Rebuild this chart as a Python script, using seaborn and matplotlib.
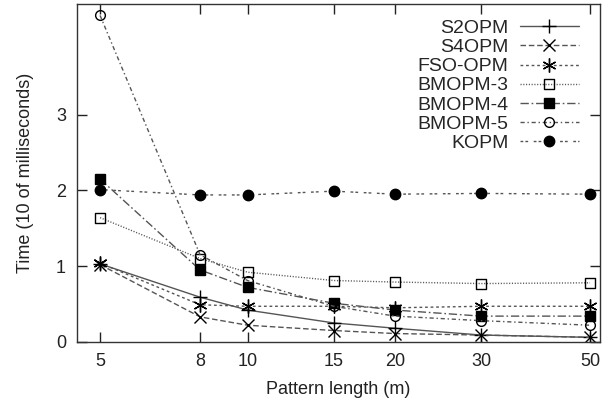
import numpy as np
import pandas as pd
import matplotlib
matplotlib.use("Agg")
import matplotlib.pyplot as plt
import seaborn as sns
from matplotlib.path import Path
from matplotlib.ticker import FixedLocator, FixedFormatter, NullLocator

pattern_length = [5, 8, 10, 15, 20, 30, 50]
s2opm   = [1.03, 0.59, 0.42, 0.25, 0.18, 0.09, 0.06]
s4opm   = [1.02, 0.33, 0.22, 0.15, 0.11, 0.09, 0.06]
fso_opm = [1.04, 0.49, 0.47, 0.47, 0.45, 0.47, 0.47]
bmopm3  = [1.64, 1.10, 0.92, 0.81, 0.79, 0.77, 0.78]
bmopm4  = [2.15, 0.95, 0.72, 0.51, 0.42, 0.34, 0.34]
bmopm5  = [4.31, 1.15, 0.81, 0.47, 0.34, 0.28, 0.22]
kopm    = [2.01, 1.94, 1.94, 1.99, 1.95, 1.96, 1.95]

series = {
    "S2OPM": s2opm, "S4OPM": s4opm, "FSO-OPM": fso_opm,
    "BMOPM-3": bmopm3, "BMOPM-4": bmopm4, "BMOPM-5": bmopm5, "KOPM": kopm,
}

# open square with a small centre dot (gnuplot-like point type)
sq = [(-1, -1), (1, -1), (1, 1), (-1, 1), (-1, -1)]
d = 0.08
dot = [(-d, -d), (d, -d), (d, d), (-d, d), (-d, -d)]
codes = [Path.MOVETO] + [Path.LINETO] * 3 + [Path.CLOSEPOLY]
sq_dot = Path(sq + dot, codes + codes)

styles = {
    "S2OPM":   dict(marker="+", ms=10, mfc="k", dashes=None),
    "S4OPM":   dict(marker="x", ms=8, mfc="k", dashes=(4, 2)),
    "FSO-OPM": dict(marker=(6, 2, 0), ms=10, mfc="k", dashes=(2, 2)),
    "BMOPM-3": dict(marker=sq_dot, ms=7, mfc="none", dashes=(0.8, 1.2)),
    "BMOPM-4": dict(marker="s", ms=7, mfc="k", dashes=(6, 2, 1.2, 2)),
    "BMOPM-5": dict(marker="o", ms=7, mfc="none", dashes=(3, 2, 1, 2)),
    "KOPM":    dict(marker="o", ms=7.5, mfc="k", dashes=(2, 1.5, 2, 4)),
}

sns.set_style("ticks")
plt.rcParams["font.family"] = ["Liberation Sans", "DejaVu Sans"]

fig = plt.figure(figsize=(6.03, 4.07), dpi=100)
ax = fig.add_axes([0.128, 0.16, 0.867, 0.83])

for name, vals in series.items():
    st = styles[name]
    df = pd.DataFrame({"x": pattern_length, "y": vals})
    sns.lineplot(data=df, x="x", y="y", ax=ax, label=name, color="#555555",
                 linewidth=1.0, marker=st["marker"], markersize=st["ms"],
                 markerfacecolor=st["mfc"], markeredgecolor="black",
                 markeredgewidth=1.0)
    line = ax.lines[-1]
    if st["dashes"] is not None:
        line.set_dashes(st["dashes"])

ax.set_xscale("log")
ax.set_xlim(4.49, 52.4)
ax.set_ylim(0, 4.46)
ax.xaxis.set_major_locator(FixedLocator(pattern_length))
ax.xaxis.set_major_formatter(FixedFormatter([str(v) for v in pattern_length]))
ax.xaxis.set_minor_locator(NullLocator())
ax.set_yticks([0, 1, 2, 3])
ax.tick_params(direction="in", length=7, width=1, top=True, right=True,
               labelsize=13, colors="#222222", pad=8)
for sp in ax.spines.values():
    sp.set_visible(True)
    sp.set_color("#333333")
    sp.set_linewidth(1.0)

ax.set_xlabel("Pattern length (m)", fontsize=13, color="#222222", labelpad=8)
ax.set_ylabel("Time (10 of milliseconds)", fontsize=13, color="#222222", labelpad=16)

ax.legend(loc="upper right", frameon=False, markerfirst=False, fontsize=14,
          handlelength=3.0, labelspacing=0.08, handletextpad=0.6,
          borderaxespad=0.3, bbox_to_anchor=(0.985, 0.995))

fig.savefig("out.png", dpi=100)
